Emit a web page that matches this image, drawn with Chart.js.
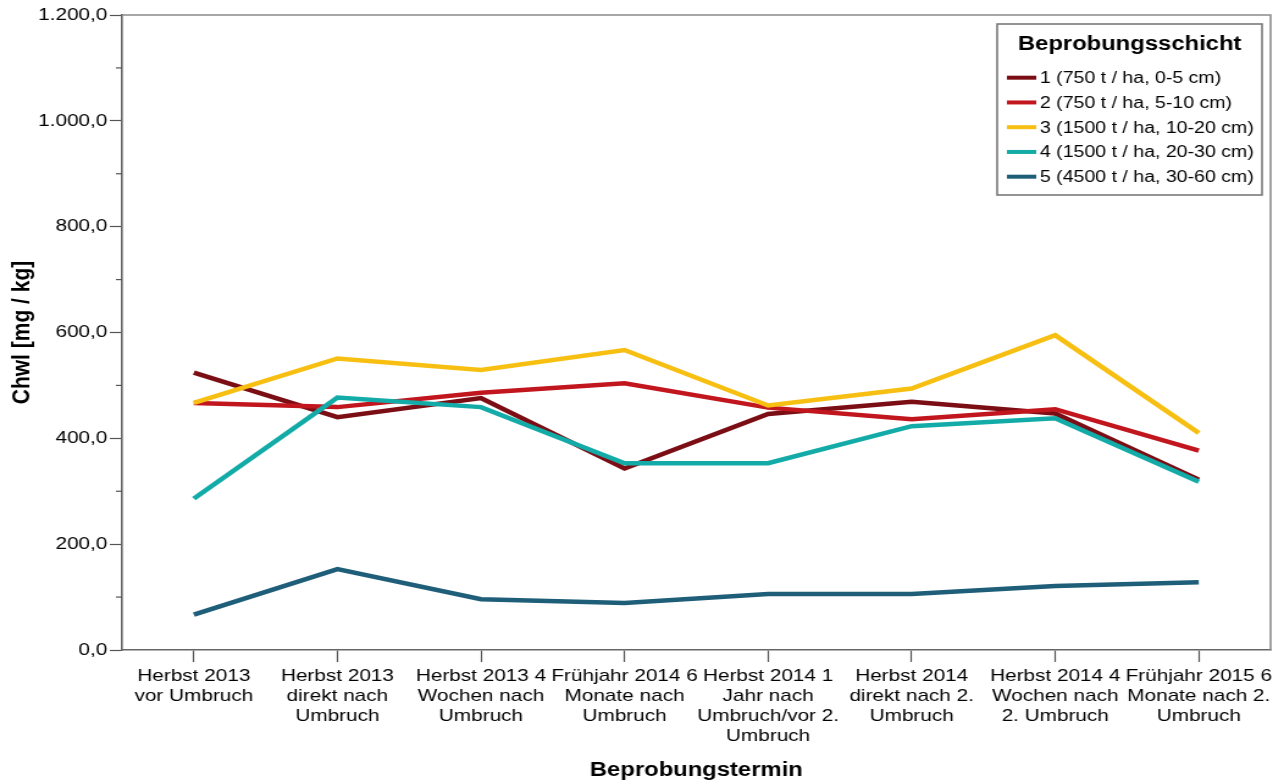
<!DOCTYPE html>
<html lang="de">
<head>
<meta charset="utf-8">
<title>Chwl nach Beprobungstermin</title>
<script src="https://cdn.jsdelivr.net/npm/chart.js@4.4.1/dist/chart.umd.min.js"></script>
<style>
  html, body { margin: 0; padding: 0; background: #fff; overflow: hidden; }
</style>
</head>
<body>
<!-- the reference is horizontally stretched, so the canvas is drawn narrower and widened by its inline style -->
<canvas id="chwlChart" width="1052" height="782" style="display:block;width:1284px;height:782px"></canvas>
<script>
// Beprobungstermine (x-Achse)
const termine = [
    ["Herbst 2013", "vor Umbruch"],
    ["Herbst 2013", "direkt nach", "Umbruch"],
    ["Herbst 2013 4", "Wochen nach", "Umbruch"],
    ["Frühjahr 2014 6", "Monate nach", "Umbruch"],
    ["Herbst 2014 1", "Jahr nach", "Umbruch/vor 2.", "Umbruch"],
    ["Herbst 2014", "direkt nach 2.", "Umbruch"],
    ["Herbst 2014 4", "Wochen nach", "2. Umbruch"],
    ["Frühjahr 2015 6", "Monate nach 2.", "Umbruch"]
];

// Chwl [mg / kg] je Beprobungsschicht
const schicht1 = [524, 440, 476, 343, 446, 469, 447, 322];
const schicht2 = [467, 459, 486, 504, 458, 436, 455, 377];
const schicht3 = [467, 551, 529, 567, 462, 494, 595, 410];
const schicht4 = [286, 477, 459, 353, 353, 423, 438, 318];
const schicht5 = [67, 153, 96, 89, 106, 106, 121, 128];

const schichtNamen = [
    "1 (750 t / ha, 0-5 cm)",
    "2 (750 t / ha, 5-10 cm)",
    "3 (1500 t / ha, 10-20 cm)",
    "4 (1500 t / ha, 20-30 cm)",
    "5 (4500 t / ha, 30-60 cm)"
];
const schichtFarben = ['#7b0d14', '#c2161f', '#f7bf12', '#13aba7', '#1e5e79'];

const yMin = 0;
const yMax = 1200;
const yStep = 100;

const FONT = '"Liberation Sans", Arial, sans-serif';

function deZahl(v) {
    // 1200 -> "1.200,0"
    let s = Math.round(v).toString();
    s = s.replace(/\B(?=(\d{3})+(?!\d))/g, '.');
    return s + ',0';
}

// Rahmen oben/rechts + kleine Zwischenstriche an der y-Achse
const rahmenPlugin = {
    id: 'rahmen',
    beforeDatasetsDraw(chart) {
        const ctx = chart.ctx;
        const a = chart.chartArea;
        const y = chart.scales.y;
        ctx.save();
        ctx.strokeStyle = '#8a8a8a';
        ctx.lineWidth = 1.6;
        ctx.beginPath();
        ctx.moveTo(a.left, a.top);
        ctx.lineTo(a.right, a.top);
        ctx.lineTo(a.right, a.bottom);
        ctx.stroke();

        ctx.strokeStyle = '#555';
        ctx.lineWidth = 1.2;
        y.ticks.forEach(function(t) {
            if (t.value % 200 !== 0) {
                const py = y.getPixelForValue(t.value);
                ctx.beginPath();
                ctx.moveTo(a.left - 5, py);
                ctx.lineTo(a.left, py);
                ctx.stroke();
            }
        });
        ctx.restore();
    }
};

// Legende im Diagramm oben rechts
const legendePlugin = {
    id: 'legende',
    afterDraw(chart) {
        const ctx = chart.ctx;
        const bx = 817, by = 24, bw = 217, bh = 171;
        ctx.save();
        ctx.fillStyle = '#fff';
        ctx.fillRect(bx, by, bw, bh);
        ctx.strokeStyle = '#7a7a7a';
        ctx.lineWidth = 1.6;
        ctx.strokeRect(bx, by, bw, bh);

        ctx.fillStyle = '#000';
        ctx.textBaseline = 'middle';
        ctx.textAlign = 'center';
        ctx.font = 'bold 19.5px ' + FONT;
        ctx.fillText('Beprobungsschicht', bx + bw / 2, 45);

        ctx.textAlign = 'left';
        ctx.font = '16px ' + FONT;
        chart.data.datasets.forEach(function(ds, i) {
            const ly = 77.7 + i * 24.75;
            ctx.strokeStyle = ds.borderColor;
            ctx.lineWidth = 4;
            ctx.beginPath();
            ctx.moveTo(825, ly);
            ctx.lineTo(849, ly);
            ctx.stroke();
            ctx.fillStyle = '#000';
            ctx.fillText(ds.label, 852, ly + 1);
        });
        ctx.restore();
    }
};

const reihen = [schicht1, schicht2, schicht3, schicht4, schicht5];

const chwlChart = new Chart(document.getElementById('chwlChart'), {
    type: 'line',
    data: {
        labels: termine,
        datasets: reihen.map(function(werte, i) {
            return {
                label: schichtNamen[i],
                data: werte,
                borderColor: schichtFarben[i],
                backgroundColor: schichtFarben[i],
                borderWidth: 4.5,
                pointRadius: 0,
                tension: 0,
                fill: false,
                order: 5 - i
            };
        })
    },
    options: {
        responsive: false,
        devicePixelRatio: 1,
        animation: false,
        events: [],
        layout: { padding: { top: 15, right: 11, left: 0, bottom: 0 } },
        plugins: {
            legend: { display: false },
            tooltip: { enabled: false }
        },
        scales: {
            x: {
                type: 'category',
                offset: true,
                grid: {
                    drawOnChartArea: false,
                    drawTicks: true,
                    tickLength: 12,
                    tickColor: '#555',
                    tickWidth: 1.2
                },
                border: { display: true, color: '#666', width: 1.6 },
                ticks: {
                    autoSkip: false,
                    maxRotation: 0,
                    minRotation: 0,
                    padding: 4,
                    color: '#000',
                    font: { family: FONT, size: 17, lineHeight: '20px' }
                },
                title: {
                    display: true,
                    text: 'Beprobungstermin',
                    color: '#000',
                    font: { family: FONT, size: 19.5, weight: 'bold' },
                    padding: { top: 0, bottom: 0 }
                },
                afterFit(scale) { scale.height = 132; }
            },
            y: {
                min: yMin,
                max: yMax,
                grid: {
                    drawOnChartArea: false,
                    drawTicks: true,
                    tickLength: 10,
                    tickWidth: 1.2,
                    tickColor: function(c) {
                        return c.tick && c.tick.value % 200 === 0 ? '#555' : 'rgba(0,0,0,0)';
                    }
                },
                border: { display: true, color: '#666', width: 1.6 },
                ticks: {
                    stepSize: yStep,
                    padding: 2,
                    color: '#000',
                    font: { family: FONT, size: 17 },
                    callback: function(v) { return v % 200 === 0 ? deZahl(v) : ''; }
                },
                title: {
                    display: true,
                    text: 'Chwl [mg / kg]',
                    color: '#000',
                    font: { family: FONT, size: 21, weight: 'bold' },
                    padding: { top: 6, bottom: 0 }
                },
                afterFit(scale) { scale.width = 100; }
            }
        }
    },
    plugins: [rahmenPlugin, legendePlugin]
});
</script>
</body>
</html>
